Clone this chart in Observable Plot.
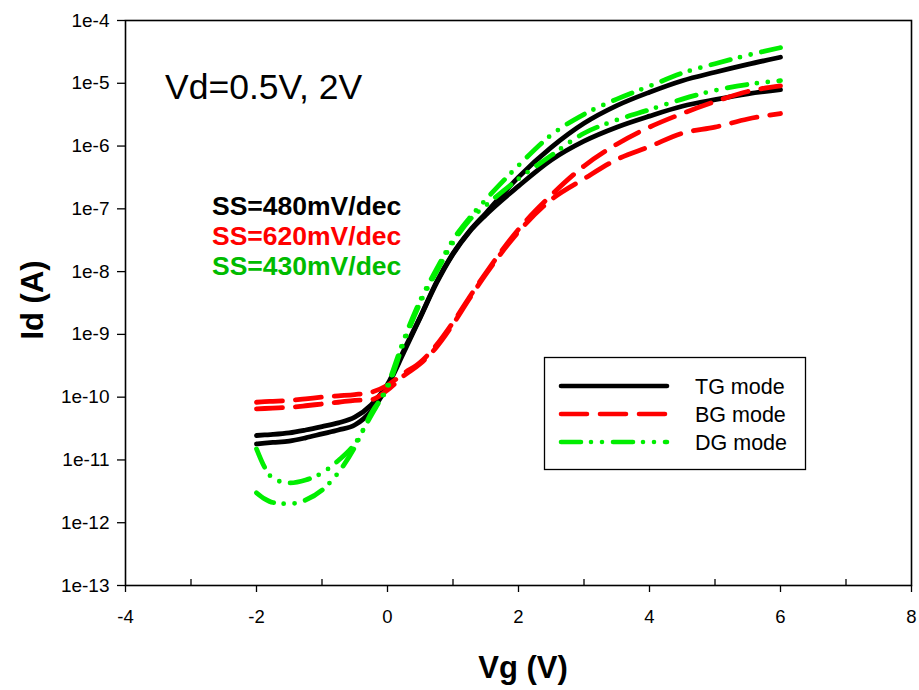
<!DOCTYPE html>
<html>
<head>
<meta charset="utf-8">
<script src="https://cdn.jsdelivr.net/npm/d3@7"></script>
<script src="https://cdn.jsdelivr.net/npm/@observablehq/plot@0.6"></script>
<style>
  html, body { margin: 0; padding: 0; background: #fff; }
  #wrap { position: relative; width: 919px; height: 690px; font-family: "Liberation Sans", Arial, sans-serif; }
  #overlay { position: absolute; left: 0; top: 0; pointer-events: none; }
</style>
</head>
<body>
<div id="wrap"></div>
<script>
// ---- data ----
const vg = [-2, -1.875, -1.75, -1.5, -1.25, -1, -0.75, -0.5, -0.25, 0, 0.25, 0.5, 0.75, 1, 1.25, 1.5, 2, 2.5, 3, 3.5, 4, 4.5, 5, 5.5, 6];

const tg_2V   = [2.45e-11, 2.5e-11, 2.55e-11, 2.7e-11, 3.0e-11, 3.4e-11, 3.9e-11, 4.8e-11, 7.5e-11, 1.6e-10, 5.6e-10, 1.9e-9, 6.9e-9, 1.95e-8, 4.4e-8, 8.5e-8, 3.2e-7, 9.5e-7, 2.3e-6, 4.4e-6, 7.2e-6, 1.1e-5, 1.5e-5, 2.0e-5, 2.6e-5];
const tg_05V  = [1.8e-11, 1.85e-11, 1.9e-11, 2.0e-11, 2.25e-11, 2.6e-11, 3.0e-11, 3.6e-11, 6.0e-11, 1.5e-10, 5.2e-10, 1.85e-9, 6.6e-9, 1.9e-8, 4.3e-8, 8.0e-8, 2.3e-7, 6.0e-7, 1.2e-6, 2.0e-6, 3.0e-6, 4.3e-6, 5.5e-6, 6.8e-6, 7.9e-6];
const bg_2V   = [8.3e-11, 8.5e-11, 8.6e-11, 8.9e-11, 9.4e-11, 1.0e-10, 1.05e-10, 1.1e-10, 1.2e-10, 1.55e-10, 2.4e-10, 3.6e-10, 6.8e-10, 1.55e-9, 3.9e-9, 9.5e-9, 4.7e-8, 1.65e-7, 4.8e-7, 1.07e-6, 2.0e-6, 3.3e-6, 5.1e-6, 7.4e-6, 9.1e-6];
const bg_05V  = [6.5e-11, 6.6e-11, 6.7e-11, 6.9e-11, 7.3e-11, 7.8e-11, 8.3e-11, 8.9e-11, 9.1e-11, 1.3e-10, 2.2e-10, 3.4e-10, 6.3e-10, 1.45e-9, 3.7e-9, 9.0e-9, 4.3e-8, 1.4e-7, 3.0e-7, 6.1e-7, 9.8e-7, 1.6e-6, 2.0e-6, 2.7e-6, 3.3e-6];
const dg_2V   = [1.5e-11, 7.6e-12, 5.1e-12, 4.3e-12, 4.8e-12, 6.2e-12, 9.8e-12, 1.8e-11, 5.1e-11, 1.55e-10, 8.3e-10, 3.5e-9, 1.1e-8, 3.2e-8, 7.1e-8, 1.4e-7, 4.9e-7, 1.5e-6, 3.2e-6, 5.6e-6, 9.0e-6, 1.45e-5, 2.05e-5, 2.8e-5, 3.7e-5];
const dg_05V  = [3.0e-12, 2.4e-12, 2.1e-12, 2.0e-12, 2.3e-12, 3.3e-12, 6.3e-12, 1.6e-11, 5.5e-11, 1.4e-10, 7.5e-10, 3.2e-9, 1.0e-8, 2.9e-8, 6.6e-8, 1.13e-7, 3.0e-7, 7.1e-7, 1.6e-6, 2.6e-6, 3.8e-6, 5.6e-6, 7.7e-6, 9.6e-6, 1.1e-5];

const xTicks = [-4, -2, 0, 2, 4, 6, 8];
const xMinorTicks = [-3, -1, 1, 3, 5, 7];
const yTicks = [1e-4, 1e-5, 1e-6, 1e-7, 1e-8, 1e-9, 1e-10, 1e-11, 1e-12, 1e-13];
const yTickLabels = ["1e-4", "1e-5", "1e-6", "1e-7", "1e-8", "1e-9", "1e-10", "1e-11", "1e-12", "1e-13"];

const modes = ["TG mode", "BG mode", "DG mode"];
const ssLabels = ["SS=480mV/dec", "SS=620mV/dec", "SS=430mV/dec"];
const annotation = "Vd=0.5V, 2V";
const xLabel = "Vg (V)";
const yLabel = "Id (A)";

// ---- styles ----
const RED = "#ff0000", GREEN = "#00ee00", BLACK = "#000000";
const lineStyle = {
  "TG mode": {stroke: BLACK, dash: null},
  "BG mode": {stroke: RED, dash: "26,13"},
  "DG mode": {stroke: GREEN, dash: "20,10,0,11,0,11"}
};
const ssColors = [BLACK, RED, "#00bb00"];

function rows(mode, vd, ys) {
  return vg.map((x, i) => ({mode, vd, vg: x, id: ys[i]}));
}
const series = [
  rows("TG mode", "2V", tg_2V), rows("TG mode", "0.5V", tg_05V),
  rows("BG mode", "2V", bg_2V), rows("BG mode", "0.5V", bg_05V),
  rows("DG mode", "2V", dg_2V), rows("DG mode", "0.5V", dg_05V)
];

const W = 919, H = 690;
const mL = 125, mR = 8, mT = 20, mB = 105;

const lineMarks = series.map(d => {
  const st = lineStyle[d[0].mode];
  return Plot.line(d, {
    x: "vg", y: "id", curve: "monotone-x",
    stroke: st.stroke, strokeWidth: 4.8,
    strokeDasharray: st.dash, strokeLinecap: "round", strokeLinejoin: "round"
  });
});

const chart = Plot.plot({
  width: W, height: H,
  marginLeft: mL, marginRight: mR, marginTop: mT, marginBottom: mB,
  style: {fontFamily: '"Liberation Sans", Arial, sans-serif', fontSize: "18px", background: "white", color: "black"},
  x: {domain: [-4, 8]},
  y: {type: "log", domain: [1e-13, 1e-4]},
  marks: [
    ...lineMarks,
    Plot.frame({stroke: "black", strokeWidth: 1.6}),
    Plot.axisX({ticks: xTicks, tickSize: 7, tickPadding: 17, tickFormat: d => String(d), label: null, fontSize: 18.5, strokeWidth: 1.3}),
    Plot.tickX(xMinorTicks, {x: d => d, insetTop: H - mT - mB - 6, stroke: "black", strokeWidth: 1.3}),
    Plot.axisY({ticks: yTicks, tickSize: 8, tickPadding: 8, tickFormat: d => yTickLabels[yTicks.indexOf(d)] ?? "", label: null, fontSize: 19, strokeWidth: 1.3})
  ]
});

const wrap = document.getElementById("wrap");
wrap.appendChild(chart);

// ---- overlay: annotations, axis titles, legend ----
const NS = "http://www.w3.org/2000/svg";
const ov = document.createElementNS(NS, "svg");
ov.setAttribute("id", "overlay");
ov.setAttribute("width", W); ov.setAttribute("height", H);
ov.style.fontFamily = '"Liberation Sans", Arial, sans-serif';
wrap.appendChild(ov);

function txt(s, x, y, opts = {}) {
  const t = document.createElementNS(NS, "text");
  t.textContent = s;
  t.setAttribute("x", x); t.setAttribute("y", y);
  for (const [k, v] of Object.entries(opts)) t.setAttribute(k, v);
  ov.appendChild(t);
  return t;
}

txt(annotation, 165, 99, {"font-size": 35.5, fill: "black"});
ssLabels.forEach((s, i) => txt(s, 212, 215 + i * 30, {"font-size": 26.5, "font-weight": "bold", fill: ssColors[i]}));

txt(xLabel, 523, 678, {"font-size": 31, "font-weight": "bold", "text-anchor": "middle"});
txt(yLabel, 0, 0, {"font-size": 31, "font-weight": "bold", "text-anchor": "middle", transform: "translate(43,300) rotate(-90)"});

// legend
const box = document.createElementNS(NS, "rect");
box.setAttribute("x", 544.5); box.setAttribute("y", 357.5);
box.setAttribute("width", 261); box.setAttribute("height", 112);
box.setAttribute("fill", "white"); box.setAttribute("stroke", "black"); box.setAttribute("stroke-width", 1.3);
ov.appendChild(box);
modes.forEach((m, i) => {
  const y = 386 + i * 28;
  const st = lineStyle[m];
  const l = document.createElementNS(NS, "line");
  l.setAttribute("x1", 561); l.setAttribute("x2", 667);
  l.setAttribute("y1", y); l.setAttribute("y2", y);
  l.setAttribute("stroke", st.stroke); l.setAttribute("stroke-width", 4.6);
  l.setAttribute("stroke-linecap", "round");
  if (st.dash) l.setAttribute("stroke-dasharray", st.dash);
  ov.appendChild(l);
  txt(m, 695, y + 7.5, {"font-size": 21.5, fill: "black"});
});
</script>
</body>
</html>
